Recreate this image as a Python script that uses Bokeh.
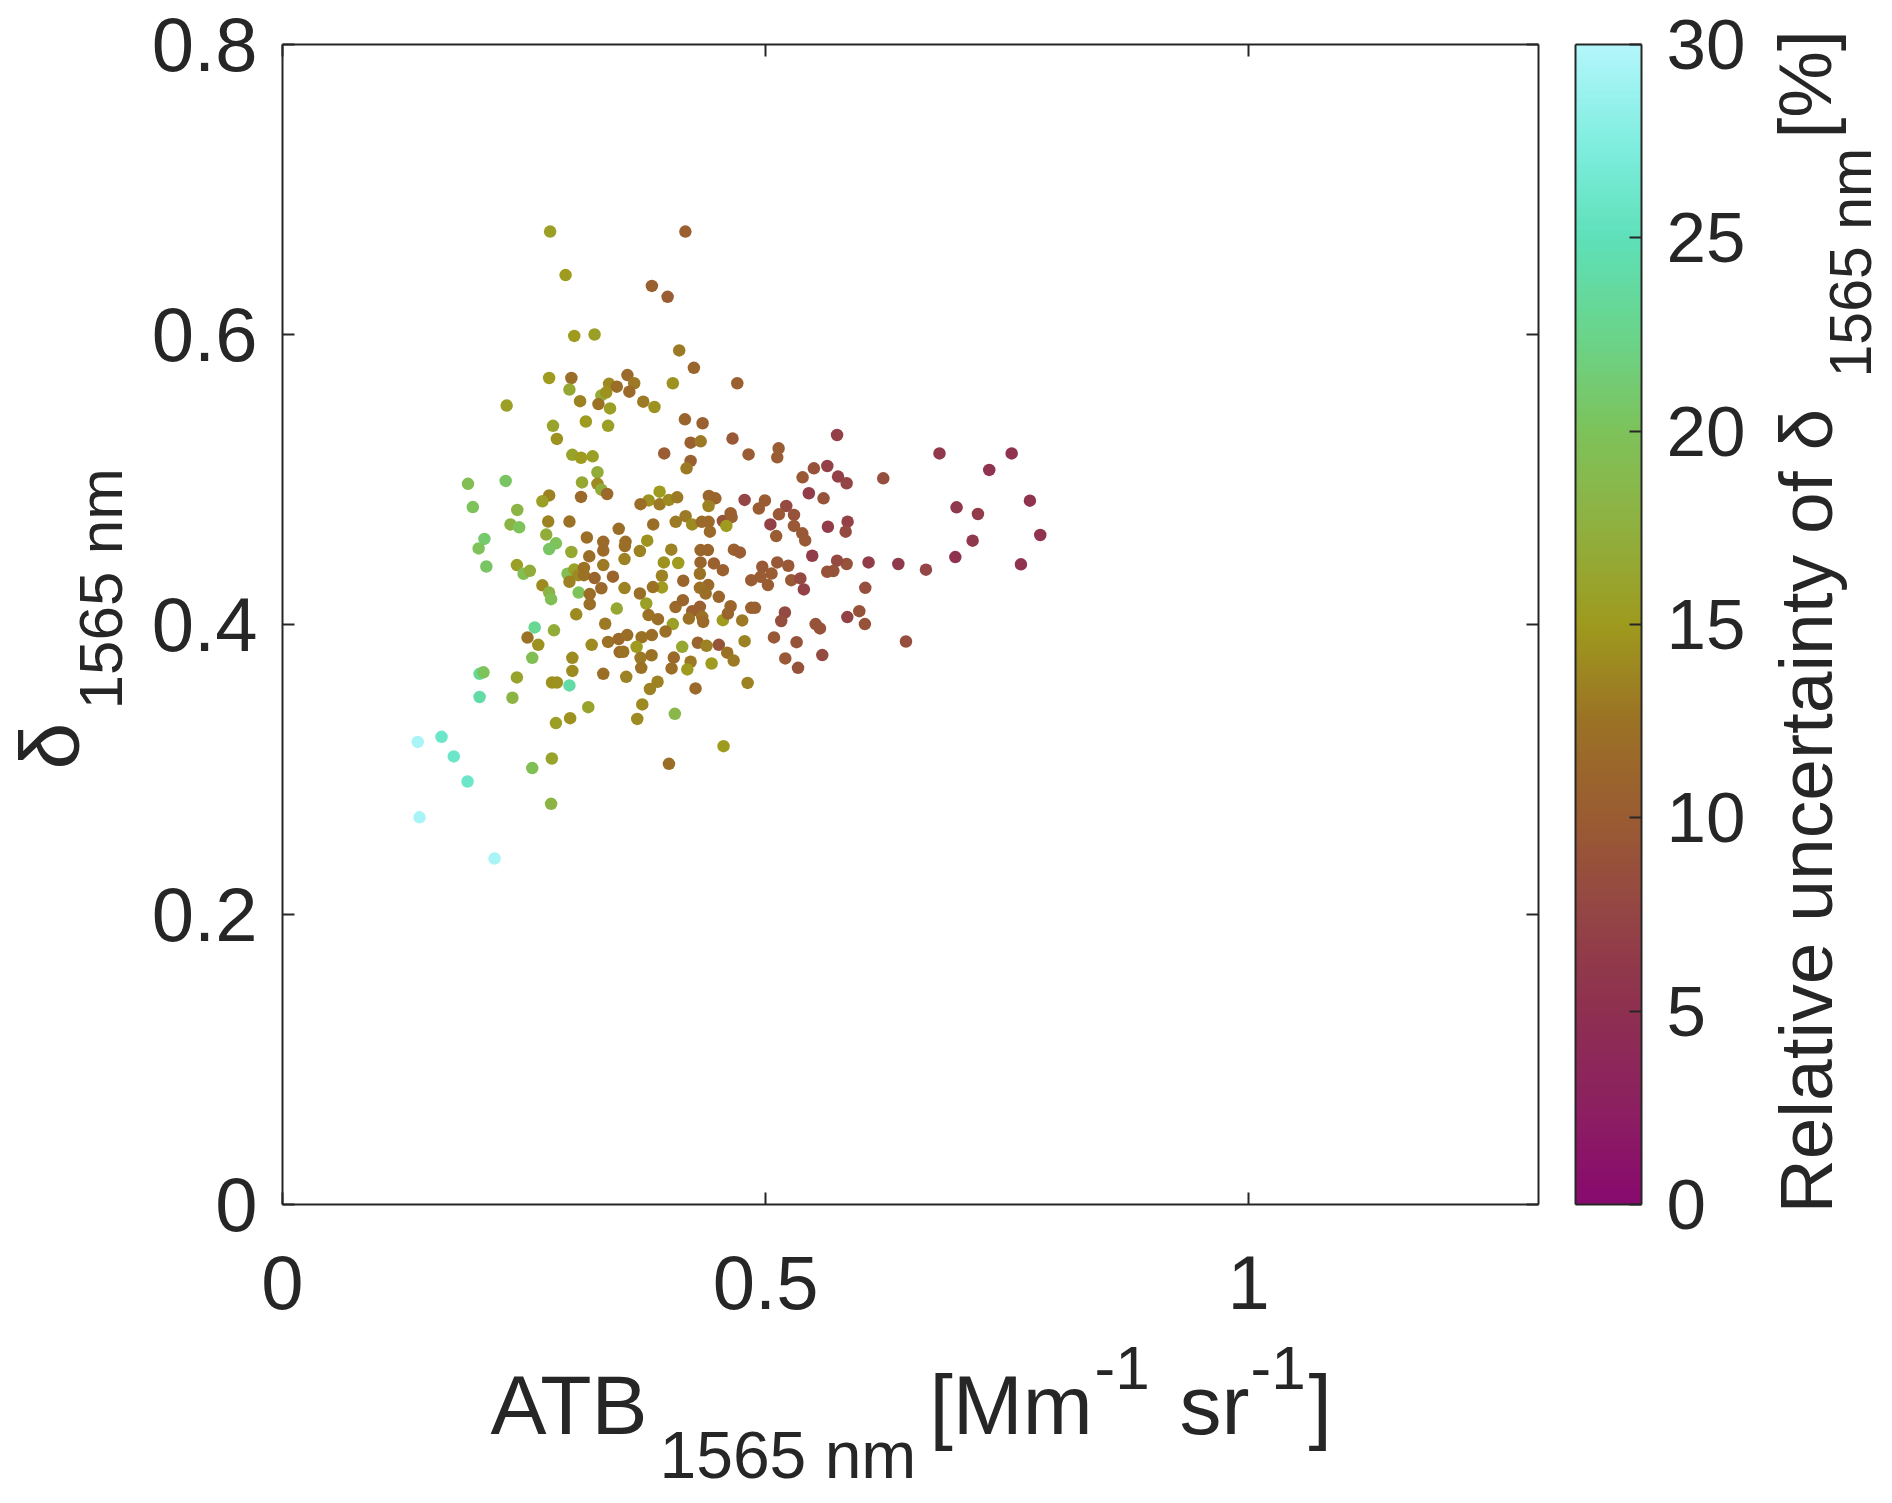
import numpy as np
from bokeh.plotting import figure
from bokeh.models import (Range1d, LinearAxis, FixedTicker, LinearColorMapper,
                          ColumnDataSource, Label, CustomJSTickFormatter)
from bokeh.embed import file_html
from bokeh.resources import INLINE

FONT = "Liberation Sans"
TXT = "#262626"

# ---------------- data ----------------
atb = [
    0.277, 0.293, 0.302, 0.323, 0.276, 0.299, 0.297, 0.338, 0.346, 0.330,
    0.335, 0.308, 0.327, 0.339, 0.232, 0.280, 0.314, 0.337, 0.284, 0.300,
    0.309, 0.321, 0.326, 0.310, 0.326, 0.330, 0.336, 0.309, 0.192, 0.231,
    0.197, 0.243, 0.276, 0.269, 0.236, 0.245, 0.275, 0.297, 0.273, 0.209,
    0.315, 0.332, 0.348, 0.283,
    0.203, 0.276, 0.299, 0.3175, 0.332, 0.332, 0.211, 0.2426, 0.2495, 0.256,
    0.295, 0.302, 0.306, 0.312, 0.312, 0.323, 0.342, 0.297, 0.330, 0.269,
    0.276, 0.278, 0.3065, 0.318, 0.318, 0.304, 0.346, 0.334, 0.261, 0.281,
    0.2536, 0.2647, 0.320, 0.337, 0.348, 0.349, 0.2585, 0.300, 0.300, 0.332,
    0.204, 0.208, 0.2426, 0.279, 0.284, 0.297, 0.204, 0.238, 0.3165, 0.283,
    0.2977, 0.1646, 0.140, 0.1773, 0.1915, 0.2788, 0.2585, 0.278, 0.1418, 0.2195,
    0.417, 0.3823, 0.3986, 0.4106, 0.4258, 0.357, 0.364, 0.359, 0.404, 0.4707,
    0.3734, 0.385, 0.4165, 0.4348, 0.4224, 0.4328, 0.4658, 0.3951, 0.4224, 0.4182,
    0.4824, 0.5135, 0.5121, 0.574, 0.550, 0.5639, 0.5383, 0.575, 0.5448, 0.560,
    0.4783, 0.4993, 0.493, 0.5214, 0.5138, 0.5294, 0.505, 0.5294, 0.538, 0.5645,
    0.511, 0.541, 0.3903, 0.379, 0.3706, 0.3903, 0.3999, 0.4085, 0.4413, 0.448,
    0.441, 0.4638, 0.4558, 0.4648, 0.4594, 0.3837, 0.407, 0.4172, 0.424, 0.434,
    0.441, 0.4424, 0.3775, 0.355,
    0.680, 0.7547, 0.7315, 0.6218, 0.5839, 0.7736, 0.6977, 0.7198, 0.5849, 0.5829,
    0.7843, 0.7143,
    0.5839, 0.6066, 0.6374, 0.666, 0.6964, 0.7643, 0.6032, 0.5846, 0.597, 0.6028,
    0.6453,
    0.3544, 0.3699, 0.3540, 0.4024, 0.4327, 0.4403, 0.4672, 0.4734, 0.3947, 0.4096,
    0.4327, 0.4465, 0.4558, 0.4966, 0.5121, 0.5235, 0.5483, 0.574, 0.5638, 0.5701,
    0.3927, 0.432, 0.4148, 0.3927, 0.354, 0.3834, 0.4852, 0.4948, 0.5062, 0.5024,
    0.5266, 0.536, 0.5396, 0.4406, 0.432, 0.438, 0.4516, 0.3699, 0.3765, 0.4068,
    0.4144, 0.4241, 0.432, 0.4344, 0.4354, 0.4206, 0.3789, 0.3886, 0.404, 0.3965,
    0.4558, 0.4638, 0.461, 0.4758, 0.4852, 0.489, 0.52, 0.5162, 0.5518, 0.5563,
    0.5587, 0.5321, 0.5087, 0.5204, 0.5336, 0.3568, 0.3717, 0.3823, 0.3665, 0.3527,
    0.3706, 0.3820, 0.3713, 0.3558, 0.405, 0.4137, 0.4027, 0.4224, 0.419, 0.4299,
    0.4389, 0.4516, 0.4603, 0.467, 0.4441, 0.4783, 0.4275, 0.3882, 0.3803, 0.4814,
    0.3724, 0.3672, 0.4061, 0.4565, 0.4,
]

delta = [
    0.671, 0.641, 0.599, 0.600, 0.570, 0.570, 0.562, 0.566, 0.564, 0.558,
    0.560, 0.554, 0.552, 0.549, 0.551, 0.537, 0.540, 0.537, 0.528, 0.517,
    0.515, 0.516, 0.505, 0.498, 0.497, 0.493, 0.490, 0.488, 0.497, 0.499,
    0.481, 0.479, 0.489, 0.485, 0.469, 0.467, 0.471, 0.471, 0.462, 0.459,
    0.460, 0.457, 0.466, 0.456,
    0.4525, 0.452, 0.450, 0.447, 0.451, 0.441, 0.440, 0.441, 0.435, 0.437,
    0.435, 0.438, 0.434, 0.439, 0.434, 0.432, 0.433, 0.4295, 0.425, 0.427,
    0.422, 0.4175, 0.422, 0.421, 0.414, 0.407, 0.411, 0.4005, 0.398, 0.396,
    0.391, 0.386, 0.386, 0.388, 0.390, 0.381, 0.377, 0.377, 0.368, 0.366,
    0.366, 0.367, 0.3635, 0.360, 0.360, 0.358, 0.350, 0.3495, 0.343, 0.332,
    0.3354, 0.3225, 0.319, 0.309, 0.2917, 0.3076, 0.301, 0.2763, 0.267, 0.2386,
    0.671, 0.6335, 0.626, 0.589, 0.577, 0.572, 0.5664, 0.5606, 0.5664, 0.5664,
    0.5537, 0.550, 0.5415, 0.5388, 0.5254, 0.5263, 0.5282, 0.518, 0.5128, 0.5077,
    0.5173, 0.5215, 0.5153, 0.5307, 0.5077, 0.5093, 0.5015, 0.502, 0.4905, 0.487,
    0.4859, 0.4855, 0.480, 0.4817, 0.476, 0.4756, 0.469, 0.468, 0.4629, 0.4674,
    0.461, 0.458, 0.4916, 0.4856, 0.483, 0.4829, 0.4859, 0.4877, 0.4886, 0.487,
    0.4817, 0.4767, 0.4714, 0.474, 0.468, 0.469, 0.4708, 0.4747, 0.469, 0.4708,
    0.4708, 0.464, 0.4578, 0.457,
    0.518, 0.518, 0.5066, 0.5008, 0.4974, 0.4854, 0.4808, 0.4762, 0.4709, 0.464,
    0.4617, 0.4578,
    0.4417, 0.4428, 0.4417, 0.4378, 0.4465, 0.4415, 0.4253, 0.4051, 0.4092, 0.4003,
    0.3883,
    0.4541, 0.4507, 0.4451, 0.4516, 0.4513, 0.4513, 0.4516, 0.4497, 0.4428, 0.4424,
    0.4428, 0.4421, 0.4375, 0.4398, 0.4428, 0.4405, 0.4474, 0.444, 0.4364, 0.4369,
    0.4336, 0.435, 0.4302, 0.4256, 0.4251, 0.4258, 0.4306, 0.4329, 0.4351, 0.4272,
    0.4306, 0.4318, 0.4242, 0.4272, 0.4253, 0.4214, 0.4191, 0.4214, 0.4145, 0.412,
    0.4168, 0.4092, 0.4122, 0.4053, 0.4018, 0.4041, 0.4065, 0.4037, 0.4003, 0.3952,
    0.403, 0.4126, 0.4076, 0.4028, 0.4115, 0.4115, 0.4083, 0.4024, 0.4003, 0.3973,
    0.3789, 0.3878, 0.3911, 0.3766, 0.3701, 0.3927, 0.3912, 0.3927, 0.3846, 0.3812,
    0.377, 0.3788, 0.3701, 0.3639, 0.3772, 0.3846, 0.3697, 0.3743, 0.369, 0.3874,
    0.3853, 0.386, 0.3806, 0.3751, 0.3731, 0.3885, 0.3559, 0.3605, 0.3555, 0.3597,
    0.3449, 0.3349, 0.3384, 0.3161, 0.3039,
]

unc = [
    15.5, 15, 15, 15.5, 15, 12, 16.5, 14, 12, 17,
    14.5, 13.5, 12.5, 15.5, 15.5, 16, 15, 15.5, 14.5, 16,
    15, 15.5, 17, 16.5, 14, 17, 11.5, 11.5, 19.5, 20.5,
    20, 18, 13.5, 15.5, 18, 20, 13.5, 12.5, 17, 21,
    12, 11.5, 12, 20,
    20, 20.5, 16.5, 12, 11.5, 13, 20.5, 15.5, 19.5, 17,
    19.5, 16, 14, 12.5, 12.5, 11, 11, 13.5, 11.5, 14,
    18, 19.5, 20, 12, 12, 14, 16.5, 13, 23, 17,
    12.5, 14.5, 14, 12.5, 11.5, 11.5, 19.5, 14, 14, 12,
    23, 20, 16, 14.5, 14.5, 24, 24, 18, 16, 15.5,
    14.5, 26, 29.5, 26, 26, 16, 19.5, 18, 29.5, 29.5,
    10.5, 10.5, 10, 13, 11, 11.5, 13, 11.5, 14.5, 10.5,
    13, 14.5, 11, 10.5, 10.5, 13, 9.5, 10, 10.5, 13,
    10, 10, 10, 7, 9, 7, 9.5, 7, 6.5, 9,
    7.5, 10, 10, 8, 9.5, 9, 7, 9.5, 9.5, 6.5,
    10, 9.5, 15, 14.5, 12, 13, 14, 13, 11, 11,
    13.5, 10.5, 9, 10.5, 15, 12, 13, 13, 14, 11.5,
    11.5, 11.5, 14.5, 12,
    6, 5.5, 5.5, 8.5, 7.5, 5.5, 6, 6.5, 7, 8,
    5.5, 6,
    9, 6.5, 6, 7.5, 5.5, 5.5, 8.5, 7, 9, 9,
    8.5,
    12, 13.5, 13.5, 13.5, 11, 11, 10.5, 10, 14.5, 15,
    11, 10.5, 10.5, 9.5, 9.5, 9.5, 6.5, 8, 9, 9,
    13.5, 12.5, 11, 15, 13.5, 12.5, 10, 10, 10, 10,
    9.5, 8, 7, 11.5, 12.5, 12, 11, 12, 15.5, 11.5,
    11, 10.5, 10.5, 12.5, 11.5, 12.5, 12.5, 12, 15.5, 12,
    15, 11, 11, 13, 10.5, 10.5, 8, 8.5, 9, 9,
    8, 9, 9.5, 9.5, 9, 12, 12.5, 12, 15, 12.5,
    13, 12.5, 12.5, 13.5, 11.5, 16.5, 12, 13, 15, 11,
    13.5, 9, 12.5, 13, 15, 13.5, 11.5, 13.5, 13.5, 13.5,
    14, 14, 18.5, 15, 12,
]

x_ticks = [0, 0.5, 1]
x_tick_labels = ["0", "0.5", "1"]
y_ticks = [0, 0.2, 0.4, 0.6, 0.8]
y_tick_labels = ["0", "0.2", "0.4", "0.6", "0.8"]
cb_ticks = [0, 5, 10, 15, 20, 25, 30]
cb_tick_labels = ["0", "5", "10", "15", "20", "25", "30"]

# colormap stops (value -> colour)
cmap_vals = [0, 2.5, 5, 7.5, 10, 12.5, 15, 17.5, 20, 22.5, 25, 27.5, 30]
cmap_cols = ["#880A6E", "#8C2060", "#8E3050", "#944545", "#9A5C32", "#9B7225",
             "#9E9A1E", "#90B040", "#7EC25A", "#6AD48A", "#5EE0B8", "#80EEE0", "#B2F6FC"]

n = min(len(atb), len(delta), len(unc))
atb, delta, unc = atb[:n], delta[:n], unc[:n]

# ---------------- layout (pixels on the page) ----------------
W, H = 1890, 1500
FL, FT, FW, FH = 282, 44, 1256, 1160          # main plot box
XMAX, YMAX = 1.3, 0.8
CBL, CBR = 1575, 1641                           # colour-bar box (same top/bottom)
CMAX = 30
sx = FW / XMAX
sy = FH / YMAX
BASE_SHIFT = 0.388   # label anchor correction (fraction of font size)


def X(px):
    return (px - FL) / sx


def Y(py):
    return (FT + FH - py) / sy


# ---------------- palette ----------------
def hex2rgb(h):
    h = h.lstrip("#")
    return [int(h[i:i + 2], 16) for i in (0, 2, 4)]


rgb = np.array([hex2rgb(c) for c in cmap_cols], dtype=float)
palette = []
for v in np.linspace(0, CMAX, 256):
    r, g, b = (np.interp(v, cmap_vals, rgb[:, k]) for k in range(3))
    palette.append("#%02x%02x%02x" % (int(round(r)), int(round(g)), int(round(b))))
mapper = LinearColorMapper(palette=palette, low=0, high=CMAX)

# ---------------- figure: frame covers the whole canvas ----------------
p = figure(width=W, height=H,
           x_range=Range1d(X(0), X(W)), y_range=Range1d(Y(H), Y(0)),
           output_backend="svg", toolbar_location=None,
           x_axis_location=None, y_axis_location=None,
           min_border=0, min_border_left=0, min_border_right=0,
           min_border_top=0, min_border_bottom=0,
           background_fill_color="white", border_fill_color="white")
p.grid.visible = False
p.outline_line_color = None
p.extra_y_ranges = {"cb": Range1d(Y(H) / YMAX * CMAX, Y(0) / YMAX * CMAX)}

blank = CustomJSTickFormatter(code="return ''")


def axis(side, loc, bounds, ticks, labels=None, size="76px", standoff=25, rng=None):
    kw = {} if rng is None else {"y_range_name": rng}
    ax = LinearAxis(fixed_location=loc, bounds=bounds, **kw)
    ax.ticker = FixedTicker(ticks=ticks, minor_ticks=[])
    ax.major_tick_in = 12
    ax.major_tick_out = 0
    ax.minor_tick_in = 0
    ax.minor_tick_out = 0
    ax.major_tick_line_color = TXT
    ax.major_tick_line_width = 2
    ax.axis_line_color = TXT
    ax.axis_line_width = 2
    ax.major_label_text_font = FONT
    ax.major_label_text_color = TXT
    ax.major_label_text_font_size = size
    ax.major_label_standoff = standoff
    if labels is not None:
        ax.major_label_overrides = {t: l for t, l in zip(ticks, labels)}
    else:
        ax.formatter = blank
    p.add_layout(ax, side)
    return ax


# main box with inward ticks on all four sides
axis("below", 0, (0, XMAX), x_ticks, x_tick_labels, "76px", 51)
axis("left", 0, (0, YMAX), y_ticks, y_tick_labels, "76px", 25)
axis("above", YMAX, (0, XMAX), x_ticks)
axis("right", XMAX, (0, YMAX), y_ticks)

# scatter
src = ColumnDataSource(dict(x=atb, y=delta, u=unc))
p.scatter("x", "y", source=src, size=12.5,
          fill_color={"field": "u", "transform": mapper}, line_color=None)

# colour bar
grad = np.linspace(0, CMAX, 256).reshape(256, 1)
p.image(image=[grad], x=X(CBL), y=0, dw=X(CBR) - X(CBL), dh=YMAX, color_mapper=mapper)
axis("right", X(CBR), (0, CMAX), cb_ticks, cb_tick_labels, "71px", 25, rng="cb")
axis("left", X(CBL), (0, YMAX), [])
axis("above", YMAX, (X(CBL), X(CBR)), [])
axis("below", 0, (X(CBL), X(CBR)), [])


def lab(px, py, text, size, vertical=False):
    s = BASE_SHIFT * size
    if vertical:
        px, angle = px - s, np.pi / 2
    else:
        py, angle = py - s, 0.0
    p.add_layout(Label(x=X(px), y=Y(py), x_units="data", y_units="data", text=text,
                       text_font=FONT, text_font_size="%dpx" % size, text_color=TXT,
                       text_align="left", text_baseline="alphabetic", angle=angle))


# x-axis label  ATB_{1565 nm}[Mm^{-1} sr^{-1}]   (baseline positions)
lab(490, 1437, "ATB", 84)
lab(659, 1480, "1565 nm", 66)
lab(929, 1437, "[Mm", 84)
lab(1094, 1392, "-1", 62)
lab(1179, 1437, "sr", 84)
lab(1250, 1392, "-1", 62)
lab(1308, 1437, "]", 84)

# y-axis label  δ_{1565 nm}
lab(82, 769, "δ", 84, vertical=True)
lab(124, 709, "1565 nm", 62, vertical=True)

# colour-bar label
lab(1835, 1213, "Relative uncertainty of δ", 75, vertical=True)
lab(1873, 377, "1565 nm", 59, vertical=True)
lab(1834, 138, "[%]", 75, vertical=True)

open("out.html", "w").write(file_html(p, INLINE))
